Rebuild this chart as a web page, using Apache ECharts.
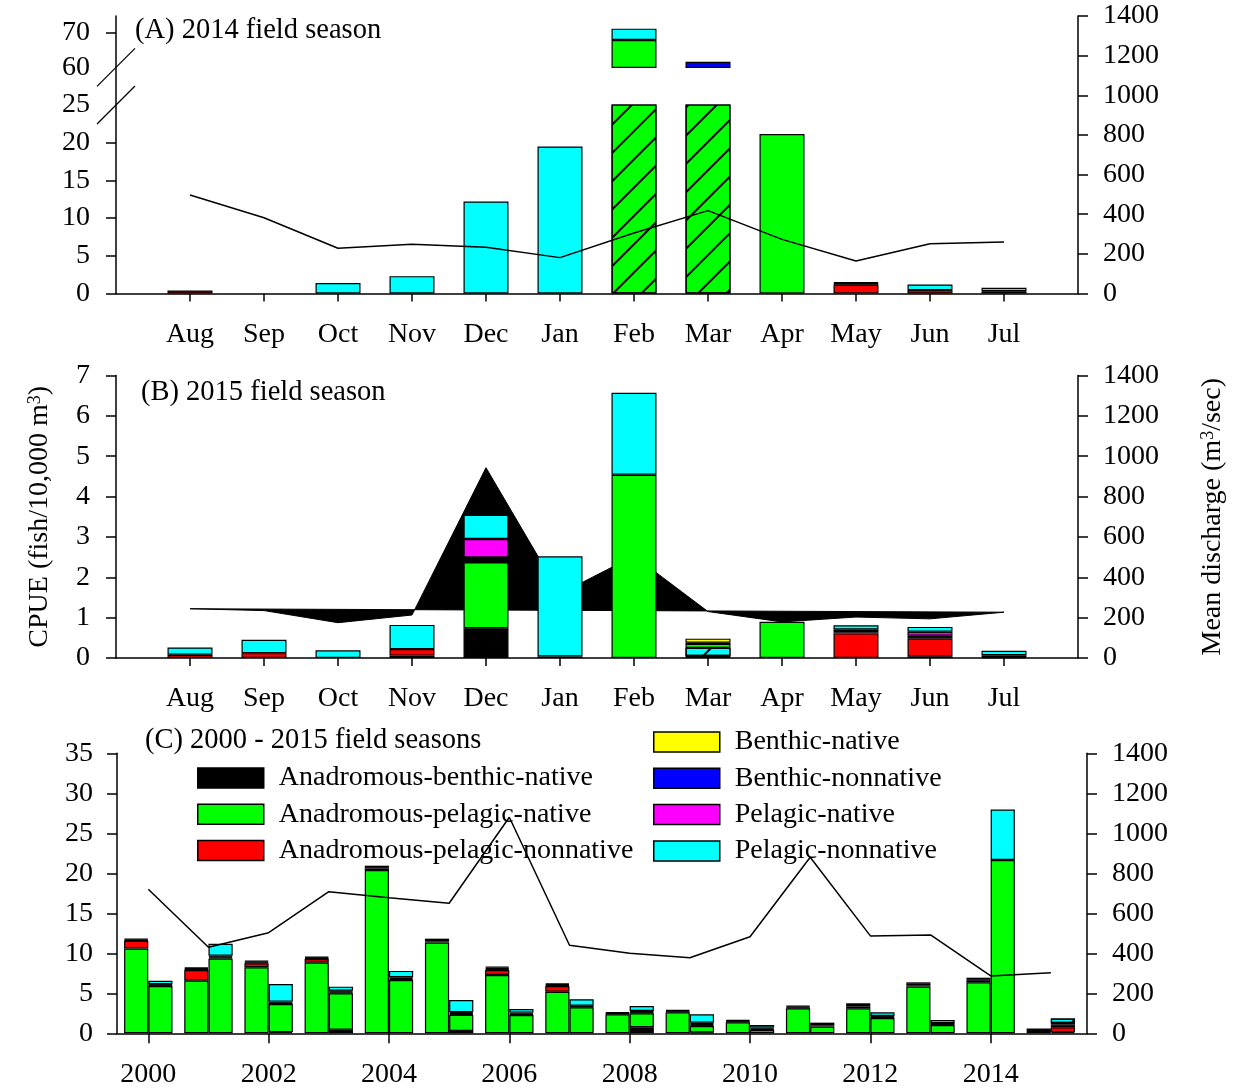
<!DOCTYPE html>
<html><head><meta charset="utf-8">
<script src="https://cdn.jsdelivr.net/npm/echarts@6/dist/echarts.min.js"></script>
<style>html,body{margin:0;padding:0;background:#fff}#c{width:1238px;height:1091px}</style>
</head><body><div id="c"></div>
<script>
// ---------------- DATA ----------------
const months = ['Aug','Sep','Oct','Nov','Dec','Jan','Feb','Mar','Apr','May','Jun','Jul'];

// (A) 2014 field season, CPUE by group
const abnA  = [0,0,0,0,0,0,0,0,0,0,0,0];
const apnA  = [0,0,0,0,0,0,68.0,59.5,21.15,0,0,0];
const apnnA = [0.4,0,0,0,0,0,0,0,0,1.2,0.45,0.3];
const bnA   = [0,0,0,0,0,0,0,0,0,0.1,0,0];
const bnnA  = [0,0,0,0,0,0,0,2.1,0,0.1,0,0];
const pnA   = [0,0,0,0,0,0,0,0,0,0.1,0,0];
const pnnA  = [0,0,1.4,2.3,12.2,19.5,3.3,0,0,0,0.75,0.45];
const dischargeA = [497,382,228,248,233,181,305,418,273,164,251,260];

// (B) 2015 field season
const abnB  = [0,0,0,0,0.74,0.04,0,0.05,0,0,0.03,0];
const pnnHatchB = [0,0,0,0,0,0,0,0.2,0,0,0,0];
const apnB  = [0,0,0,0.06,1.63,0,4.54,0.1,0.9,0,0,0.02];
const apnnB = [0.08,0.12,0,0.16,0.06,0,0,0.03,0,0.61,0.45,0];
const bnB   = [0,0,0,0,0,0,0,0.1,0,0.03,0,0.05];
const bnnB  = [0,0,0,0,0.06,0,0,0,0,0.03,0.07,0];
const pnB   = [0,0,0,0,0.46,0,0,0,0,0.04,0.1,0];
const pnnB  = [0.18,0.33,0.19,0.6,0.6,2.48,2.03,0,0,0.1,0.12,0.11];
const dischargeB = [244,235,175,213,943,318,506,230,179,203,194,227];

// (C) 2000 - 2015 field seasons, two bars per year (first / second)
const years = [2000,2001,2002,2003,2004,2005,2006,2007,2008,2009,2010,2011,2012,2013,2014,2015];
const abnC1  = [0,0,0,0,0,0,0,0,0,0,0,0,0,0,0,0.6];
const apnC1  = [10.6,6.58,8.25,8.83,20.4,11.33,7.29,5.2,2.37,2.62,1.37,3.12,3.12,5.83,6.37,0];
const apnnC1 = [0.95,1.34,0.5,0.45,0,0,0.63,0.7,0,0,0,0,0,0,0,0];
const bnC1   = [0.09,0.11,0.11,0.1,0.18,0.17,0.14,0.12,0.08,0.1,0.1,0.11,0.21,0.18,0.19,0];
const bnnC1  = [0.1,0.11,0.11,0.1,0.19,0.16,0.13,0.11,0.09,0.09,0.09,0.11,0.21,0.18,0.2,0];
const pnC1   = [0.09,0.11,0.11,0.1,0.18,0.17,0.14,0.12,0.08,0.1,0.1,0.11,0.21,0.18,0.19,0];
const pnnC1  = [0,0,0,0,0,0,0,0,0,0,0,0,0,0,0,0];
const abnC2  = [0,0,0.15,0.45,0,0.3,0,0,0.75,0.1,0,0,0,0,0,0.15];
const apnC2  = [5.9,9.33,3.51,4.55,6.66,2.0,2.29,3.25,1.75,0.81,0.41,0.83,1.91,1.04,21.66,0];
const apnnC2 = [0,0,0,0,0,0,0,0,0,0,0,0,0,0,0,0.6];
const bnC2   = [0.08,0.12,0.1,0.11,0.11,0.12,0.1,0.07,0.1,0.14,0.1,0.17,0.09,0.07,0,0.18];
const bnnC2  = [0.09,0.12,0.1,0.11,0.12,0.11,0.1,0.06,0.1,0.13,0.1,0.16,0.08,0.08,0,0.19];
const pnC2   = [0.08,0.12,0.1,0.11,0.11,0.12,0.1,0.07,0.1,0.14,0.1,0.17,0.09,0.07,0,0.18];
const pnnC2  = [0.42,1.5,2.2,0.5,0.8,1.5,0.45,0.8,0.61,1.05,0.33,0,0.45,0.4,6.3,0.55];
const dischargeC = [720,430,503,708,678,650,1080,440,400,378,483,880,487,492,287,303];

// tick labels
const cpueTicksA = [0,5,10,15,20,25];
const cpueTicksAUpper = [60,70];
const yearTicks = [2000,2002,2004,2006,2008,2010,2012,2014];

// ---------------- STYLE ----------------
const FONT = 'Liberation Serif';
const FS = 28;
const NAMES = {abn:'Anadromous-benthic-native', apn:'Anadromous-pelagic-native', apnn:'Anadromous-pelagic-nonnative',
  bn:'Benthic-native', bnn:'Benthic-nonnative', pn:'Pelagic-native', pnn:'Pelagic-nonnative'};
const COLORS = {abn:'#000000', apn:'#00ff00', apnn:'#ff0000', bn:'#ffff00', bnn:'#0000ff', pn:'#ff00ff', pnn:'#00ffff'};
const hatch = {symbol:'rect', symbolSize:1, color:'#000', dashArrayX:[1,0], dashArrayY:[2,18], rotation:-Math.PI/4};
const cats = [''].concat(months, ['']);
const plain = v => String(v);
const lbl = {color:'#000', fontFamily:FONT, fontSize:FS, formatter:plain};
const axLine = {show:true, lineStyle:{color:'#000', width:1.5}};

function barSeries(key, values, xi, yi, stack, width, hatchIdx, pad) {
  let data = values.map((v, i) => {
    const d = {value: v > 0 ? v : null};
    if (hatchIdx && hatchIdx.indexOf(i) >= 0 && v > 0) d.itemStyle = {decal: hatch};
    return d;
  });
  if (pad) data = [{value:null}].concat(data, [{value:null}]);
  return {type:'bar', name:NAMES[key], xAxisIndex:xi, yAxisIndex:yi, stack:stack, barWidth:width, barGap:'0%',
    itemStyle:{color:COLORS[key], borderColor:'#000', borderWidth:1.2}, emphasis:{disabled:true},
    data:data, z:2};
}

const series = [];
// Panel A lower (0-25) and upper (60-75) segments
const A = {abn:abnA, apn:apnA, apnn:apnnA, bn:bnA, bnn:bnnA, pn:pnA, pnn:pnnA};
const hatchA = [months.indexOf('Feb'), months.indexOf('Mar')];
Object.keys(A).forEach(k => {
  series.push(barSeries(k, A[k], 1, 2, 'aLow', 45, k === 'apn' ? hatchA : null, true));
  series.push(barSeries(k, A[k], 2, 3, 'aUp', 45, null, true));
});
series.push({type:'line', xAxisIndex:0, yAxisIndex:1, data:[null].concat(dischargeA,[null]), symbol:'none',
  lineStyle:{color:'#000', width:1.5}, z:5, emphasis:{disabled:true}});

// Panel B
series.push({type:'custom', xAxisIndex:3, yAxisIndex:5, z:1, data:dischargeB.map((v,i)=>[i+1, v]),
  renderItem:(params, api) => {
    if (params.dataIndex !== 0) return null;
    const pts = dischargeB.map((v,i) => api.coord([i+1, v]));
    return {type:'polygon', shape:{points:pts}, style:{fill:'#000', stroke:'#000', lineWidth:1}};
  }});
const B = [['abn',abnB],['pnn',pnnHatchB],['apn',apnB],['apnn',apnnB],['bn',bnB],['bnn',bnnB],['pn',pnB],['pnn',pnnB]];
B.forEach((e, j) => series.push(barSeries(e[0], e[1], 3, 4, 'b', 45, j === 1 ? [months.indexOf('Mar')] : null, true)));

// Panel C
const C1 = {abn:abnC1, apn:apnC1, apnn:apnnC1, bn:bnC1, bnn:bnnC1, pn:pnC1, pnn:pnnC1};
const C2 = {abn:abnC2, apn:apnC2, apnn:apnnC2, bn:bnC2, bnn:bnnC2, pn:pnC2, pnn:pnnC2};
Object.keys(C1).forEach(k => {
  series.push(barSeries(k, C1[k], 5, 8, 'c1', 24.2, null, false));
  series.push(barSeries(k, C2[k], 5, 8, 'c2', 24.2, k === 'pnn' ? [years.indexOf(2015)] : null, false));
});
series.push({type:'line', xAxisIndex:4, yAxisIndex:7, data:years.map((y,i)=>[y, dischargeC[i]]), symbol:'none',
  lineStyle:{color:'#000', width:1.5}, z:5, emphasis:{disabled:true}});

const catTick = {show:true, length:8, lineStyle:{color:'#000', width:1.5}, interval:(i, v) => v !== ''};
const catLabel = {interval:0, margin:27, color:'#000', fontFamily:FONT, fontSize:FS};
const yTick = {show:true, length:10, lineStyle:{color:'#000', width:1.5}};
const noSplit = {show:false};
const legendText = {color:'#000', fontFamily:FONT, fontSize:FS, lineHeight:28, padding:[0,0,0,10]};

const option = {
  animation:false,
  backgroundColor:'#fff',
  grid:[
    {left:116, right:160, top:16, height:277.5, outerBoundsMode:'none'},
    {left:116, right:160, top:105, height:188.5, outerBoundsMode:'none'},
    {left:116, right:160, top:16, height:51.3, outerBoundsMode:'none'},
    {left:116, right:160, top:375.5, height:282.5, outerBoundsMode:'none'},
    {left:117, right:151, top:753.3, height:280, outerBoundsMode:'none'},
    {left:118.2, width:962.7, top:753.3, height:280, outerBoundsMode:'none'}
  ],
  xAxis:[
    {gridIndex:0, type:'category', data:cats, boundaryGap:false, axisLine:axLine, axisTick:catTick, axisLabel:catLabel, splitLine:noSplit},
    {gridIndex:1, type:'category', data:cats, boundaryGap:false, show:false},
    {gridIndex:2, type:'category', data:cats, boundaryGap:false, show:false},
    {gridIndex:3, type:'category', data:cats, boundaryGap:false, axisLine:axLine, axisTick:catTick, axisLabel:catLabel, splitLine:noSplit},
    {gridIndex:4, type:'value', min:1999.48, max:2015.6, axisLine:axLine,
      axisTick:Object.assign({customValues:yearTicks}, yTick),
      axisLabel:Object.assign({customValues:yearTicks, margin:27}, lbl), splitLine:noSplit},
    {gridIndex:5, type:'category', data:years, show:false}
  ],
  yAxis:[
    {gridIndex:0, type:'value', position:'left', min:0, max:1400, axisLine:axLine, axisTick:{show:false}, axisLabel:{show:false}, splitLine:noSplit},
    {gridIndex:0, type:'value', position:'right', min:0, max:1400, interval:200, axisLine:axLine, axisTick:yTick, axisLabel:Object.assign({margin:25}, lbl), splitLine:noSplit},
    {gridIndex:1, type:'value', min:0, max:25, interval:5, axisLine:{show:false},
      axisTick:Object.assign({customValues:[0,5,10,15,20]}, yTick), axisLabel:Object.assign({margin:26, customValues:cpueTicksA}, lbl), splitLine:noSplit},
    {gridIndex:2, type:'value', min:60, max:75, axisLine:{show:false},
      axisTick:Object.assign({customValues:[70]}, yTick), axisLabel:Object.assign({margin:26, customValues:cpueTicksAUpper}, lbl), splitLine:noSplit},
    {gridIndex:3, type:'value', min:0, max:7, interval:1, axisLine:axLine, axisTick:yTick, axisLabel:Object.assign({margin:26}, lbl), splitLine:noSplit,
      name:'{a|CPUE (fish/10,000 m}{s|3}{a|)}', nameLocation:'middle', nameRotate:90, nameGap:62,
      nameTextStyle:{rich:{a:{fontFamily:FONT, fontSize:FS, color:'#000'}, s:{fontFamily:FONT, fontSize:18, color:'#000', verticalAlign:'top'}}}},
    {gridIndex:3, type:'value', position:'right', min:0, max:1400, interval:200, axisLine:axLine, axisTick:yTick, axisLabel:Object.assign({margin:25}, lbl), splitLine:noSplit,
      name:'{a|Mean discharge (m}{s|3}{a|/sec)}', nameLocation:'middle', nameRotate:90, nameGap:121,
      nameTextStyle:{rich:{a:{fontFamily:FONT, fontSize:FS, color:'#000'}, s:{fontFamily:FONT, fontSize:18, color:'#000', verticalAlign:'top'}}}},
    {gridIndex:4, type:'value', min:0, max:35, interval:5, axisLine:axLine, axisTick:yTick, axisLabel:Object.assign({margin:24}, lbl), splitLine:noSplit},
    {gridIndex:4, type:'value', position:'right', min:0, max:1400, interval:200, axisLine:axLine, axisTick:yTick, axisLabel:Object.assign({margin:25}, lbl), splitLine:noSplit},
    {gridIndex:5, type:'value', min:0, max:35, show:false}
  ],
  legend:[
    {orient:'vertical', left:197, top:764, padding:0, itemWidth:66, itemHeight:20, itemGap:8.3, selectedMode:false,
      icon:'rect', itemStyle:{borderColor:'#000', borderWidth:1.5}, textStyle:legendText,
      data:[NAMES.abn, NAMES.apn, NAMES.apnn]},
    {orient:'vertical', left:653, top:728, padding:0, itemWidth:66, itemHeight:20, itemGap:8.3, selectedMode:false,
      icon:'rect', itemStyle:{borderColor:'#000', borderWidth:1.5}, textStyle:legendText,
      data:[NAMES.bn, NAMES.bnn, NAMES.pn, NAMES.pnn]}
  ],
  graphic:[
    {type:'text', x:135, y:31, style:{text:'(A) 2014 field season', font:'28.5px "'+FONT+'"', fill:'#000', verticalAlign:'middle'}},
    {type:'text', x:141, y:393, style:{text:'(B) 2015 field season', font:'28.5px "'+FONT+'"', fill:'#000', verticalAlign:'middle'}},
    {type:'text', x:145, y:741, style:{text:'(C) 2000 - 2015 field seasons', font:'28.5px "'+FONT+'"', fill:'#000', verticalAlign:'middle'}}
  ],
  series:series
};

const chart = echarts.init(document.getElementById('c'), null, {renderer:'canvas'});
chart.setOption(option);

// axis-break marks on panel A's left axis
const ax = chart.convertToPixel({xAxisIndex:0}, 0);
const yUp = chart.convertToPixel({yAxisIndex:3}, 60);
const yLow = chart.convertToPixel({yAxisIndex:2}, 25);
const slash = (cy) => ({type:'line', shape:{x1:ax-19, y1:cy+19, x2:ax+19, y2:cy-19}, style:{stroke:'#000', lineWidth:1.2}, z:100});
chart.setOption({graphic: option.graphic.concat([slash(yUp), slash(yLow)])});
</script></body></html>
